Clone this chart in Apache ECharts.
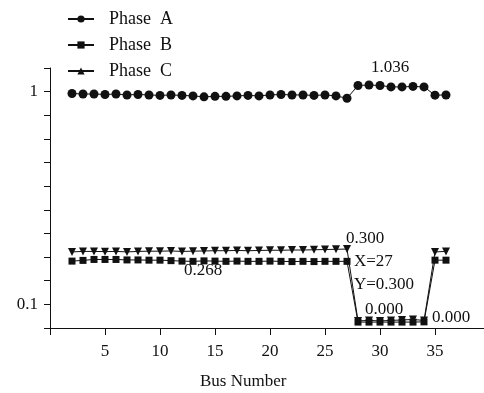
<!DOCTYPE html>
<html>
<head>
<meta charset="utf-8">
<script src="https://cdn.jsdelivr.net/npm/echarts@6/dist/echarts.min.js"></script>
<style>
  html, body { margin: 0; padding: 0; background: #fff; }
  #chart { width: 484px; height: 393px; }
</style>
</head>
<body>
<div id="chart"></div>
<script>
const busNumbers = [2, 3, 4, 5, 6, 7, 8, 9, 10, 11, 12, 13, 14, 15, 16, 17, 18, 19,
  20, 21, 22, 23, 24, 25, 26, 27, 28, 29, 30, 31, 32, 33, 34, 35, 36];

const phaseA = [0.992, 0.99, 0.99, 0.988, 0.99, 0.986, 0.988, 0.986, 0.984, 0.986, 0.984,
  0.982, 0.978, 0.98, 0.98, 0.982, 0.984, 0.982, 0.986, 0.988, 0.986, 0.986, 0.984, 0.986,
  0.982, 0.972, 1.026, 1.028, 1.026, 1.02, 1.02, 1.022, 1.02, 0.985, 0.986];

const phaseB = [0.283, 0.286, 0.29, 0.29, 0.29, 0.288, 0.288, 0.287, 0.287, 0.285, 0.283,
  0.282, 0.284, 0.283, 0.282, 0.283, 0.282, 0.282, 0.283, 0.282, 0.281, 0.282, 0.281, 0.282,
  0.282, 0.282, 0.025, 0.025, 0.025, 0.025, 0.025, 0.025, 0.026, 0.287, 0.287];

const phaseC = [0.322, 0.324, 0.324, 0.323, 0.324, 0.322, 0.324, 0.325, 0.325, 0.326, 0.324,
  0.325, 0.326, 0.327, 0.327, 0.328, 0.327, 0.328, 0.329, 0.329, 0.33, 0.33, 0.331, 0.332,
  0.333, 0.334, 0.03, 0.032, 0.03, 0.032, 0.034, 0.036, 0.032, 0.322, 0.324];

const seriesNames = ['Phase  A', 'Phase  B', 'Phase  C'];
const xLabels = [5, 10, 15, 20, 25, 30, 35];
const yLabels = [1, 0.1];

const ink = '#111';
const font = 'Liberation Serif, Times New Roman, serif';

const pairs = (vals) => busNumbers.map((b, i) => [b, vals[i]]);

const lineSeries = (name, vals, symbol, size, rotate) => ({
  name,
  type: 'line',
  data: pairs(vals),
  symbol,
  symbolSize: size,
  symbolRotate: rotate,
  showAllSymbol: true,
  lineStyle: { color: ink, width: 1 },
  itemStyle: { color: ink },
  emphasis: { disabled: true },
  animation: false,
});

const note = (text, x, y) => ({
  type: 'text',
  left: x,
  top: y,
  style: { text, font: '17px ' + font, fill: ink },
});

const chart = echarts.init(document.getElementById('chart'));
chart.setOption({
  backgroundColor: '#fff',
  animation: false,
  legend: {
    orient: 'vertical',
    left: 62,
    top: 5,
    itemWidth: 26,
    itemHeight: 9,
    itemGap: 8,
    symbolRotate: 0,
    textStyle: { color: ink, fontFamily: font, fontSize: 18, padding: [0, 0, 0, 10] },
    data: seriesNames,
  },
  grid: { left: 50, right: -6, top: 68, bottom: 65, outerBoundsMode: 'none' },
  xAxis: {
    type: 'value',
    min: 0,
    max: 40,
    interval: 5,
    axisLine: { lineStyle: { color: ink, width: 1 } },
    axisTick: { show: true, length: 7, lineStyle: { color: ink } },
    axisLabel: {
      color: ink, fontFamily: font, fontSize: 17, margin: 15,
      formatter: (v) => (xLabels.includes(v) ? String(v) : ''),
    },
    splitLine: { show: false },
  },
  yAxis: {
    type: 'value',
    min: 0,
    max: 1.1,
    interval: 0.1,
    axisLine: { show: true, lineStyle: { color: ink, width: 1 } },
    axisTick: { show: true, length: 6, lineStyle: { color: ink } },
    axisLabel: {
      color: ink, fontFamily: font, fontSize: 17, margin: 12,
      formatter: (v) => {
        const r = Math.round(v * 10) / 10;
        return yLabels.includes(r) ? String(r) : '';
      },
    },
    splitLine: { show: false },
  },
  series: [
    lineSeries(seriesNames[0], phaseA, 'circle', 9, 0),
    lineSeries(seriesNames[1], phaseB, 'rect', 7, 0),
    lineSeries(seriesNames[2], phaseC, 'triangle', 8, 180),
  ],
  graphic: [
    note('1.036', 371, 59),
    note('0.300', 346, 230),
    note('X=27', 354, 253),
    note('Y=0.300', 354, 276),
    note('0.268', 184, 262),
    note('0.000', 365, 301),
    note('0.000', 432, 309),
    note('Bus Number', 200, 373),
  ],
});

window.addEventListener('resize', () => chart.resize());
</script>
</body>
</html>
